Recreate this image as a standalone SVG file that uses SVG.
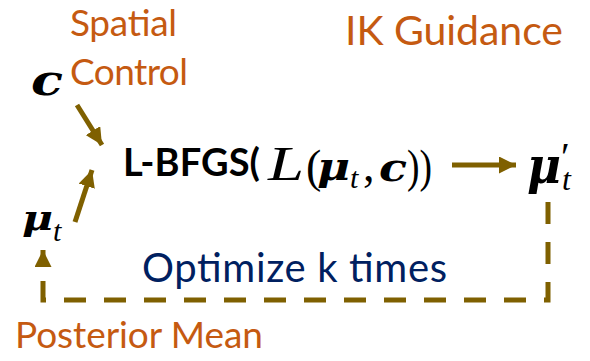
<svg xmlns="http://www.w3.org/2000/svg" width="590" height="361" viewBox="0 0 590 361">
<defs>
<style>
.lbl{font-family:Lato,"Open Sans","Liberation Sans",sans-serif}
.or{fill:#C55A11}
.nv{fill:#002060}
.m{font-family:"Liberation Serif","DejaVu Serif",serif;font-style:italic;fill:#000}
.r{font-family:"Liberation Serif","DejaVu Serif",serif;fill:#000}
.mb{font-family:"DejaVu Serif","Liberation Serif",serif;font-style:italic;font-weight:bold;fill:#000}
.con{stroke:#7F6000;stroke-width:5;fill:none}
</style>
<marker id="ah" viewBox="0 0 10 10" refX="10" refY="5" markerWidth="3.4" markerHeight="3.4" orient="auto" markerUnits="strokeWidth">
<path d="M0,0 L10,5 L0,10 Z" fill="#7F6000"/>
</marker>
</defs>
<rect width="590" height="361" fill="#fff"/>
<g id="spatial-control"><text class="lbl or" x="70" y="36" font-size="37" textLength="107">Spatial</text><text class="lbl or" x="70" y="85" font-size="37" textLength="118">Control</text></g>
<g id="ik-guidance"><text class="lbl or" x="345" y="45" font-size="41" textLength="218">IK Guidance</text></g>
<g id="c"><text class="mb" x="31" y="95" font-size="42" textLength="32" lengthAdjust="spacingAndGlyphs">c</text></g>
<g id="mu-t"><text class="mb" x="22" y="230" font-size="36" textLength="31" lengthAdjust="spacingAndGlyphs">μ</text><text class="m" x="53" y="241" font-size="30">t</text></g>
<g id="lbfgs">
<text class="lbl" x="123" y="176" font-size="38" font-weight="bold" textLength="137">L-BFGS(</text>
<text class="m" x="268" y="180" font-size="48" textLength="36" lengthAdjust="spacingAndGlyphs">L</text>
<text class="r" x="306" y="182" font-size="46">(</text>
<text class="mb" x="317" y="180" font-size="40" textLength="33" lengthAdjust="spacingAndGlyphs">μ</text>
<text class="m" x="350" y="188" font-size="30">t</text>
<text class="r" x="363" y="181" font-size="46">,</text>
<text class="mb" x="379" y="181" font-size="40" textLength="28" lengthAdjust="spacingAndGlyphs">c</text>
<text class="r" x="407" y="182" font-size="46" textLength="25" lengthAdjust="spacingAndGlyphs">))</text>
</g>
<g id="mu-t-prime"><text class="mb" x="527" y="183" font-size="50" textLength="34" lengthAdjust="spacingAndGlyphs">μ</text><text class="r" x="561" y="170" font-size="40">′</text><text class="m" x="562" y="190" font-size="32">t</text></g>
<g id="optimize"><text class="lbl nv" x="142" y="282" font-size="40" textLength="305">Optimize k times</text></g>
<g id="posterior-mean"><text class="lbl or" x="15" y="348" font-size="37" textLength="248">Posterior Mean</text></g>
<g id="connectors">
<line class="con" x1="77" y1="105" x2="102" y2="145" marker-end="url(#ah)"/>
<line class="con" x1="75" y1="222" x2="92" y2="170" marker-end="url(#ah)"/>
<line class="con" x1="452" y1="165" x2="516" y2="165" marker-end="url(#ah)"/>
<path class="con" d="M548,202 L548,300 L43,300 L43,250" stroke-dasharray="22 18" marker-end="url(#ah)"/>
</g>
</svg>
